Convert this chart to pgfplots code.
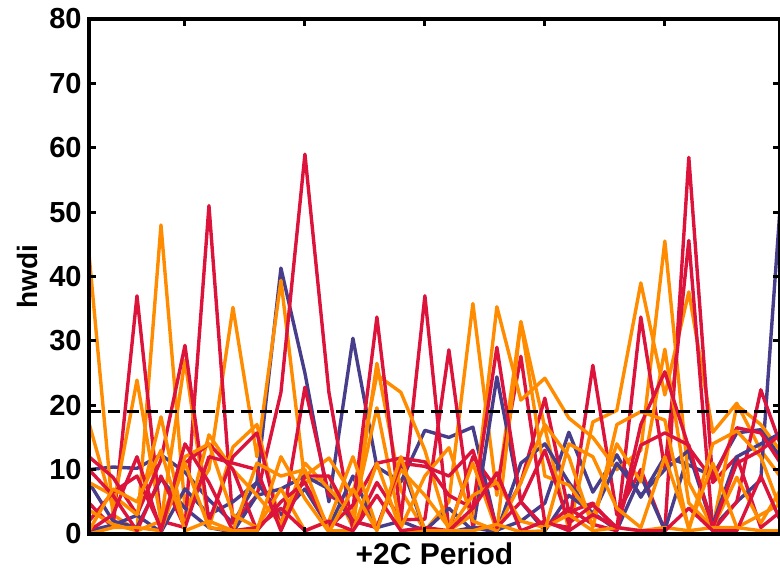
\documentclass[border=0pt]{standalone}
\usepackage{fontspec}
\setmainfont{Liberation Sans}
\usepackage{pgfplots}
\pgfplotsset{compat=1.18}
\usepackage{pgfplotstable}
\definecolor{cb}{HTML}{483D8B}
\definecolor{cr}{HTML}{DC143C}
\definecolor{co}{HTML}{FF8C00}
\pgfplotstableread{
i  b1   b2   b3   r1   r2   r3   r4   r5   o1   o2   o3   o4   o5   o6
0  10   0.5  8    4.8  12   2    10   0.5  43.5 17.2 8    3.7  0    0.5
1  10.4 1.4  2    1    8.8  6.5  6    3    3    4    6    1.5  1    7
2  10.2 2.9  1    37   3    9    0.5  12   0.5  23.9 3    0.5  1    5
3  12.3 0.3  8.6  2    11.5 1    9    0.5  48   2    18.2 2    0.5  13
4  9.6  7    4    1    29.3 11   1    14   4    27   1    12   11   0.5
5  5.3  3    1    51   2    14   12   8    10   1    15.4 14   1    2
6  1.7  5    0.3  1.7  12   10   11   0.5  35.2 13.5 10   3    0.5  0.5
7  8.1  8    6    6    15.7 0.5  10   1    12   17   6    1    11   0.5
8  41.3 3    7    22   0.6  5    0.5  4    39.4 1    1.5  7    9    12
9  25   7    9    59   22.8 8    9    0.5  8    9    11   0.5  10   5.5
10 5    1    7    22   6    1    9    2    9    11.8 7    2    0.5  0.3
11 30.4 9    2    0.6  4    4.5  2    0.5  1    6    3    12   0.5  7
12 10.4 1    1    8    33.7 11   1    6    26.5 24.7 19.6 1    11   0.5
13 8.1  2    11   2.2  2.2  11.8 11   0.5  6.8  22   1    10   0.5  12
14 16.1 0.5  0.5  37   2.3  11.2 10.5 1    0.5  13   9    6    0.5  0.5
15 15   4    0.3  0.5  28.6 6    9    0.5  5    0.5  13.4 1    0.5  0.5
16 16.6 0.5  1    12   1    4    13   4    35.8 3    2    11   6    0.5
17 0.6  24.4 0.3  7    1    29   1    9.5  6    35.3 0.5  0.5  8    1.5
18 2    5    11   27.6 8    5    5    0.5  33   20.8 32.9 8    2    0.3
19 4.8  0.5  14   1.7  21.1 1    13   2    16.5 24.2 9    17   1    0.5
20 15.8 6    8    1    3.4  4    1.7  0.5  0.6  18   7.6  12   3    14
21 6.5  3.3  3    26.2 4.8  1.5  4.5  3    17.4 15   2.6  1    0.5  12
22 12.3 0.6  11   3    0.6  0.5  1    1    19.2 10   14   17   1    4
23 5.7  9    6    10   33.7 17   13.8 0.5  39   13   8.1  19   0.5  1
24 12   0.6  10   0.5  10   25.2 15.7 0.5  21.6 45.5 28.7 17.7 1    12
25 10.7 12.6 13   58.5 45.6 13.4 13.8 4    37.6 8    4.8  0.6  0.5  1
26 9    1    1.5  8    0.5  8.4  1    0.5  15.8 1    1    14   1    11
27 15.7 5    12   12   5    16.5 11   0.5  20.3 20   8.8  16   1    1
28 16.2 8.4  14   1    22.4 15.7 13   9    13   17   1.7  12   3    0.5
29 11   61   16   4    12   10   16   0.5  8    12   8    2    5    0.5
}\data
\begin{document}
\begin{tikzpicture}
\begin{axis}[name=ax,
  width=345.5pt, height=257.5pt, scale only axis,
  xmin=0, xmax=28.8, ymin=0, ymax=80,
  ytick={0,10,...,80}, xtick={4,9,14,19,24}, xticklabels={},
  tick align=inside, major tick length=3.5pt,
  tick style={line width=1.5pt,black},
  axis line style={line width=2pt},
  axis on top,
  /pgf/number format/assume math mode=true,
  yticklabel style={font=\fontsize{14.5}{16}\selectfont\bfseries, inner sep=0pt, xshift=-3.5pt},
  every axis y label/.style={at={(axis description cs:-0.0738,0.5)}, rotate=90, anchor=south, inner sep=0pt, font=\fontsize{14}{16}\selectfont\bfseries},
  every axis x label/.style={at={(axis description cs:0.5,-0.0583)}, anchor=base, inner sep=0pt, font=\fontsize{15}{17}\selectfont\bfseries},
  ylabel={hwdi}, xlabel={+2C Period},
  every axis plot/.append style={line width=1.7pt, line join=round},
]
\addplot[cb] table[x=i,y=b1]{\data};
\addplot[co] table[x=i,y=o1]{\data};
\addplot[cr] table[x=i,y=r1]{\data};
\addplot[cb] table[x=i,y=b2]{\data};
\addplot[co] table[x=i,y=o2]{\data};
\addplot[cr] table[x=i,y=r2]{\data};
\addplot[cb] table[x=i,y=b3]{\data};
\addplot[co] table[x=i,y=o3]{\data};
\addplot[cr] table[x=i,y=r3]{\data};
\addplot[co] table[x=i,y=o4]{\data};
\addplot[cr] table[x=i,y=r4]{\data};
\addplot[co] table[x=i,y=o5]{\data};
\addplot[cr] table[x=i,y=r5]{\data};
\addplot[co] table[x=i,y=o6]{\data};
\addplot[black, line width=1.6pt, dash pattern=on 6pt off 3.5pt] coordinates {(0,19) (29,19)};
\end{axis}
\pgfresetboundingbox
\path[use as bounding box] ([xshift=-44.5pt,yshift=-17.5pt]ax.south west) rectangle ([yshift=9.5pt]ax.north east);
\end{tikzpicture}
\end{document}
